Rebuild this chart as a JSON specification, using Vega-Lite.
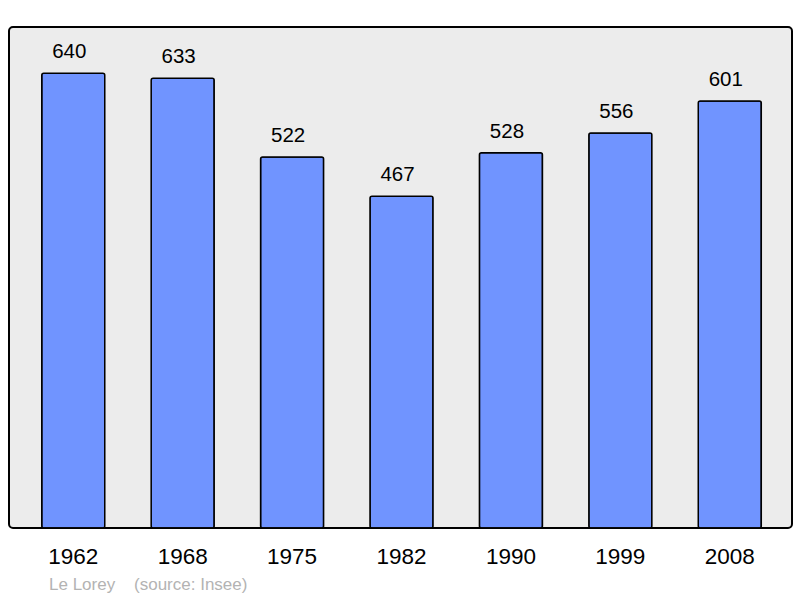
{
  "$schema": "https://vega.github.io/schema/vega-lite/v6.json",
  "autosize": {"type": "none"},
  "width": 783,
  "height": 501,
  "padding": {"left": 9, "top": 27, "right": 8, "bottom": 70},
  "background": "white",
  "config": {
    "font": "Liberation Sans",
    "view": {"fill": "#ececec", "stroke": "black", "strokeWidth": 2, "cornerRadius": 4}
  },
  "title": {
    "text": "Le Lorey\u00a0\u00a0\u00a0\u00a0(source: Insee)",
    "orient": "bottom",
    "anchor": "start",
    "dx": 40,
    "offset": 9,
    "fontSize": 17,
    "fontWeight": "normal",
    "color": "#b3b3b3",
    "font": "Liberation Sans"
  },
  "data": {
    "values": [
      {"year": "1962", "pop": 640},
      {"year": "1968", "pop": 633},
      {"year": "1975", "pop": 522},
      {"year": "1982", "pop": 467},
      {"year": "1990", "pop": 528},
      {"year": "1999", "pop": 556},
      {"year": "2008", "pop": 601}
    ]
  },
  "encoding": {
    "x": {
      "field": "year",
      "type": "nominal",
      "sort": null,
      "scale": {"paddingInner": 0.424, "paddingOuter": 0.29, "align": 0.516},
      "axis": {
        "title": null,
        "labelAngle": 0,
        "ticks": false,
        "domain": false,
        "labelFontSize": 22.5,
        "labelColor": "black",
        "labelPadding": 17
      }
    },
    "y": {
      "field": "pop",
      "type": "quantitative",
      "scale": {"domain": [0, 705], "nice": false, "zero": true},
      "axis": null
    }
  },
  "layer": [
    {
      "mark": {"type": "bar", "fill": "#7094ff", "stroke": "black", "strokeWidth": 1.5, "cornerRadius": 2}
    },
    {
      "mark": {"type": "text", "baseline": "alphabetic", "dy": -15, "dx": -4, "fontSize": 20.5, "color": "black"},
      "encoding": {"text": {"field": "pop", "type": "quantitative"}}
    }
  ]
}
